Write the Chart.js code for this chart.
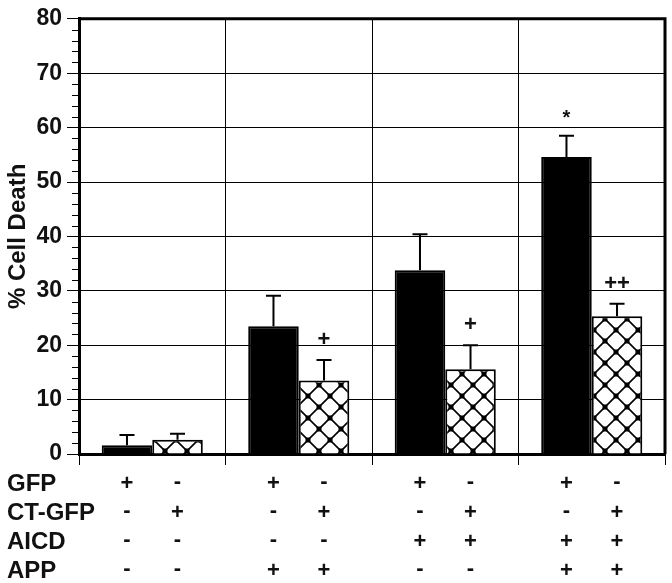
<!DOCTYPE html>
<html>
<head>
<meta charset="utf-8">
<script src="https://cdn.jsdelivr.net/npm/chart.js@4.4.0/dist/chart.umd.min.js"></script>
<style>
  html, body { margin: 0; padding: 0; background: #fff; }
</style>
</head>
<body>
<canvas id="chart" width="672" height="583"></canvas>
<script>
// ===== Data =====
const groups = ["1", "2", "3", "4"];
const solidMeans = [1.6, 23.5, 33.8, 54.6];
const solidErrors = [1.9, 5.6, 6.6, 3.9];
const hatchMeans = [2.6, 13.5, 15.6, 25.3];
const hatchErrors = [1.1, 3.8, 4.4, 2.3];
const solidMarks = ["", "", "", "*"];
const hatchMarks = ["", "+", "+", "++"];

// table under the axis: row label, then sign per group for solid / hatched bar
const rowLabels = ["GFP", "CT-GFP", "AICD", "APP"];
const solidSigns = [
  ["+", "+", "+", "+"],
  ["-", "-", "-", "-"],
  ["-", "-", "+", "+"],
  ["-", "+", "-", "+"],
];
const hatchSigns = [
  ["-", "-", "-", "-"],
  ["+", "+", "+", "+"],
  ["-", "-", "+", "+"],
  ["-", "+", "-", "+"],
];

const FONT = "'Liberation Sans', Arial, Helvetica, sans-serif";
const INK = "#111";

const canvas = document.getElementById("chart");
const mainCtx = canvas.getContext("2d");

// ===== Lattice fill for the second series =====
function makeHatch() {
  const c = document.createElement("canvas");
  c.width = 22;
  c.height = 22;
  const g = c.getContext("2d");
  g.fillStyle = "#fff";
  g.fillRect(0, 0, 22, 22);
  g.strokeStyle = "#000";
  g.lineWidth = 1.6;
  g.beginPath();
  g.moveTo(0, 0); g.lineTo(22, 22);
  g.moveTo(22, 0); g.lineTo(0, 22);
  g.stroke();
  g.fillStyle = "#000";
  [[0, 0], [22, 0], [0, 22], [22, 22], [11, 11]].forEach(([x, y]) => g.fillRect(x - 2.5, y - 2.5, 5, 5));
  return mainCtx.createPattern(c, "repeat");
}

function drawCentered(ctx, text, x, cy) {
  const m = ctx.measureText(text);
  const base = cy + (m.actualBoundingBoxAscent - m.actualBoundingBoxDescent) / 2;
  ctx.fillText(text, x, base);
}

// ===== Error bars + significance marks =====
const errorBars = {
  id: "errorBars",
  afterDatasetsDraw(chart) {
    const ctx = chart.ctx;
    const y = chart.scales.y;
    const sets = [
      [0, solidMeans, solidErrors, solidMarks, 20],
      [1, hatchMeans, hatchErrors, hatchMarks, 22],
    ];
    ctx.save();
    sets.forEach(([di, means, errs, marks, size]) => {
      chart.getDatasetMeta(di).data.forEach((bar, i) => {
        const yBar = y.getPixelForValue(means[i]);
        const yTop = y.getPixelForValue(means[i] + errs[i]);
        ctx.strokeStyle = "#000";
        ctx.lineWidth = 2;
        ctx.beginPath();
        ctx.moveTo(bar.x, yBar);
        ctx.lineTo(bar.x, yTop);
        ctx.moveTo(bar.x - 7.5, yTop);
        ctx.lineTo(bar.x + 7.5, yTop);
        ctx.stroke();
        if (marks[i]) {
          ctx.fillStyle = INK;
          ctx.font = `bold ${size}px ${FONT}`;
          ctx.textAlign = "center";
          ctx.textBaseline = "alphabetic";
          drawCentered(ctx, marks[i], bar.x, yTop - 22);
        }
      });
    });
    ctx.restore();
  },
};

// ===== Frame, minor ticks on the y axis and the +/- table =====
const extras = {
  id: "extras",
  afterDraw(chart) {
    const ctx = chart.ctx;
    const y = chart.scales.y;
    const area = chart.chartArea;
    ctx.save();
    ctx.strokeStyle = "#000";
    ctx.lineWidth = 3;
    ctx.beginPath();
    ctx.moveTo(area.left, area.top);
    ctx.lineTo(area.right, area.top);
    ctx.lineTo(area.right, area.bottom);
    ctx.stroke();

    ctx.lineWidth = 1;
    ctx.beginPath();
    for (let v = 2; v < 80; v += 2) {
      if (v % 10 === 0) continue;
      const py = Math.round(y.getPixelForValue(v)) + 0.5;
      ctx.moveTo(area.left - 7, py);
      ctx.lineTo(area.left, py);
    }
    ctx.stroke();

    ctx.fillStyle = INK;
    const solid = chart.getDatasetMeta(0).data;
    const hatch = chart.getDatasetMeta(1).data;
    rowLabels.forEach((label, r) => {
      const cy = area.bottom + 28 + r * 29;
      ctx.font = `bold 24px ${FONT}`;
      ctx.textAlign = "left";
      drawCentered(ctx, label, 7, cy);
      ctx.font = `bold 22px ${FONT}`;
      ctx.textAlign = "center";
      groups.forEach((g, i) => {
        drawCentered(ctx, solidSigns[r][i], solid[i].x, cy);
        drawCentered(ctx, hatchSigns[r][i], hatch[i].x, cy);
      });
    });
    ctx.restore();
  },
};

new Chart(mainCtx, {
  type: "bar",
  data: {
    labels: groups,
    datasets: [
      {
        data: solidMeans,
        backgroundColor: "#000",
        borderColor: "#000",
        borderWidth: 2,
        categoryPercentage: 0.69,
        barPercentage: 1,
      },
      {
        data: hatchMeans,
        backgroundColor: makeHatch(),
        borderColor: "#000",
        borderWidth: 2,
        categoryPercentage: 0.69,
        barPercentage: 1,
      },
    ],
  },
  options: {
    responsive: false,
    devicePixelRatio: 1,
    animation: false,
    layout: { padding: { top: 14, right: 7, left: 0, bottom: 0 } },
    plugins: { legend: { display: false }, tooltip: { enabled: false } },
    scales: {
      x: {
        ticks: { display: false },
        grid: {
          offset: true,
          color: "#000",
          lineWidth: 1,
          tickLength: 11,
          tickColor: "#000",
          tickWidth: 1,
        },
        border: { color: "#000", width: 3 },
        afterFit: (s) => { s.height = 129; },
      },
      y: {
        min: 0,
        max: 80,
        ticks: {
          stepSize: 10,
          color: INK,
          padding: 5,
          font: { family: FONT, size: 23, weight: "bold" },
        },
        grid: {
          color: "#000",
          lineWidth: 1,
          tickLength: 12,
          tickColor: "#000",
          tickWidth: 1,
        },
        border: { color: "#000", width: 3 },
        title: {
          display: true,
          text: "% Cell Death",
          color: INK,
          padding: { top: 4, bottom: 0 },
          font: { family: FONT, size: 24, weight: "bold" },
        },
        afterFit: (s) => { s.width = 79; },
      },
    },
  },
  plugins: [errorBars, extras],
});
</script>
</body>
</html>
